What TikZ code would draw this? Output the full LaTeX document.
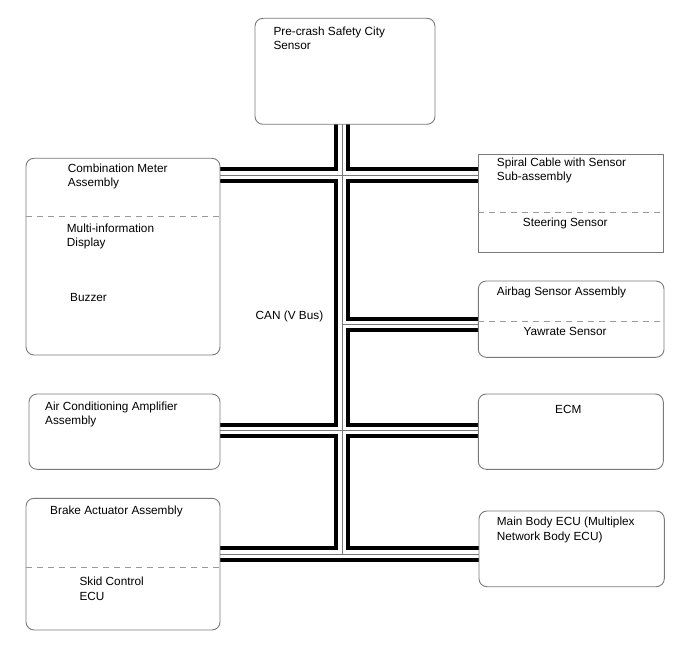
\documentclass[tikz,border=0pt]{standalone}
\usepackage{fontspec}
\setmainfont{Liberation Sans}
\usetikzlibrary{backgrounds}
\definecolor{boxgray}{HTML}{7A7A7A}
\definecolor{dashgray}{HTML}{9A9A9A}
\tikzset{
  unitbox/.style={draw=boxgray, line width=0.9pt, rounded corners=8pt, inner sep=0pt, outer sep=0pt, anchor=north west},
  squarebox/.style={unitbox, rounded corners=0pt},
  txt/.style={anchor=base west, inner sep=0pt, font=\fontsize{11.8}{14}\selectfont},
  divider/.style={draw=dashgray, line width=0.9pt, dash pattern=on 6pt off 5pt},
}
\begin{document}
\begin{tikzpicture}[x=1pt,y=-1pt]
\useasboundingbox (0,0) rectangle (688,658);
% boxes
\node[unitbox, minimum width=180pt, minimum height=106pt] (pre) at (255,18.3) {};
\node[unitbox, minimum width=194pt, minimum height=196.7pt] (cm) at (26,158.3) {};
\node[squarebox, minimum width=185pt, minimum height=98pt] (sp) at (478.3,154.3) {};
\node[unitbox, minimum width=185.7pt, minimum height=76.3pt] (ab) at (478.3,281) {};
\node[unitbox, minimum width=191pt, minimum height=75.3pt] (ac) at (29,394) {};
\node[unitbox, minimum width=185pt, minimum height=75.3pt] (ecm) at (478.3,394) {};
\node[unitbox, minimum width=194pt, minimum height=131.7pt] (br) at (26,498.3) {};
\node[unitbox, minimum width=185.3pt, minimum height=75.7pt] (mb) at (479,511) {};
% dividers
\coordinate (dcm) at (0,216.7);
\coordinate (dsp) at (0,212.7);
\coordinate (dab) at (0,321.7);
\coordinate (dbr) at (0,567.7);
\draw[divider] (cm.west |- dcm) -- (cm.east |- dcm);
\draw[divider] (sp.west |- dsp) -- (sp.east |- dsp);
\draw[divider] (ab.west |- dab) -- (ab.east |- dab);
\draw[divider] (br.west |- dbr) -- (br.east |- dbr);
% texts
\node[txt] (t1) at (273.3,36) {Pre-crash Safety City};
\node[txt] (t2) at (273.3,50) {Sensor};
\node[txt] (t3) at (67.7,172) {Combination Meter};
\node[txt] (t4) at (67.7,186) {Assembly};
\node[txt] (t5) at (66.7,232.5) {Multi-information};
\node[txt] (t6) at (66.7,246.5) {Display};
\node[txt] (t7) at (70,301.8) {Buzzer};
\node[txt] (t8) at (496.7,166.8) {Spiral Cable with Sensor};
\node[txt] (t9) at (496.7,180.8) {Sub-assembly};
\node[txt] (t10) at (522.7,226) {Steering Sensor};
\node[txt] (t11) at (496.7,295.2) {Airbag Sensor Assembly};
\node[txt] (t12) at (523.3,335.2) {Yawrate Sensor};
\node[txt] (t13) at (555,413.5) {ECM};
\node[txt] (t14) at (496.7,525.8) {Main Body ECU (Multiplex};
\node[txt] (t15) at (496.7,540) {Network Body ECU)};
\node[txt] (t16) at (45,410) {Air Conditioning Amplifier};
\node[txt] (t17) at (45,424) {Assembly};
\node[txt] (t18) at (50,514.5) {Brake Actuator Assembly};
\node[txt] (t19) at (79.3,585.8) {Skid Control};
\node[txt] (t20) at (79.3,600) {ECU};
\node[txt] (can) at (255.5,319) {CAN (V Bus)};
% bus junctions
\coordinate (jA) at (342,175);
\coordinate (jB) at (342,324.5);
\coordinate (jC) at (342,430.5);
\coordinate (jD) at (342,554);
\begin{scope}[on background layer]
\foreach \w/\c in {15.5/black, 7.5/white, 0.8/boxgray}{
  \draw[line width=\w pt, \c]
    (jA |- pre.south) -- (jD)
    (cm.east |- jA) -- (sp.west |- jA)
    (jB) -- (ab.west |- jB)
    (ac.east |- jC) -- (ecm.west |- jC)
    (br.east |- jD) -- (mb.west |- jD);
}
\end{scope}
\end{tikzpicture}
\end{document}
